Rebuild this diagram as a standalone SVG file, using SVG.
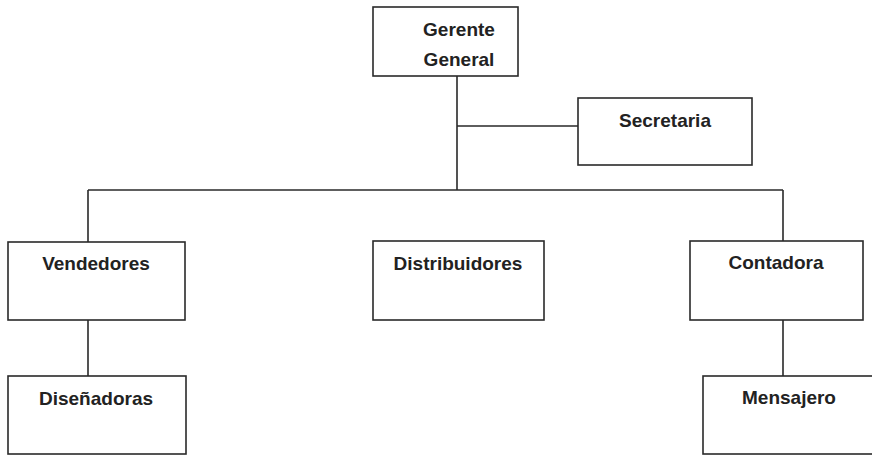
<svg xmlns="http://www.w3.org/2000/svg" width="872" height="456" viewBox="0 0 872 456">
<style>
.box{fill:none;stroke:#2a2a2a;stroke-width:1.6}
.ln{fill:none;stroke:#2a2a2a;stroke-width:1.6}
text{font-family:"Liberation Sans",Arial,sans-serif;font-weight:bold;font-size:19px;fill:#222;text-anchor:middle}
</style>
<rect width="872" height="456" fill="#fff"/>
<g id="connectors">
<path class="ln" d="M457 76V190M457 126H578M88 190H783M88 190V242M783 190V241M88 320V376M783 320V376"/>
</g>
<g id="gerente"><rect class="box" x="373" y="7" width="145" height="69"/><text x="459" y="36">Gerente</text><text x="459" y="66">General</text></g>
<g id="secretaria"><rect class="box" x="578" y="98" width="174" height="67"/><text x="665" y="127">Secretaria</text></g>
<g id="vendedores"><rect class="box" x="8" y="242" width="177" height="78"/><text x="96" y="270">Vendedores</text></g>
<g id="distribuidores"><rect class="box" x="373" y="241" width="171" height="79"/><text x="458" y="270">Distribuidores</text></g>
<g id="contadora"><rect class="box" x="690" y="241" width="173" height="79"/><text x="776" y="269">Contadora</text></g>
<g id="disenadoras"><rect class="box" x="8" y="376" width="178" height="78"/><text x="96" y="405">Diseñadoras</text></g>
<g id="mensajero"><rect class="box" x="703" y="376" width="180" height="78"/><text x="789" y="404">Mensajero</text></g>
</svg>
